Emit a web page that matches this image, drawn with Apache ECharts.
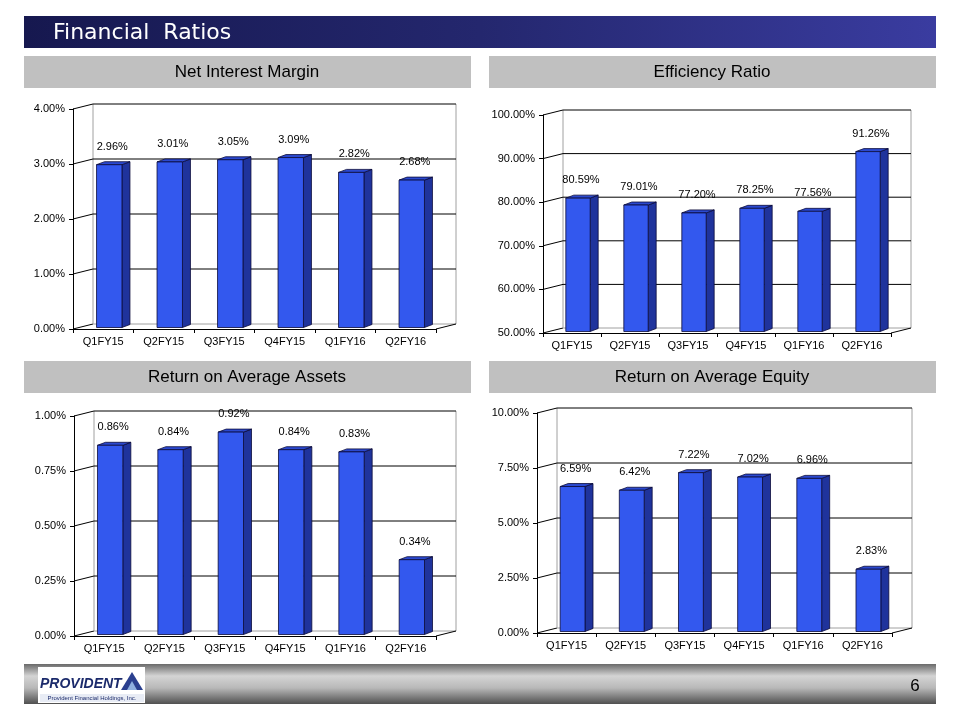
<!DOCTYPE html>
<html>
<head>
<meta charset="utf-8">
<title>Financial Ratios</title>
<script src="https://cdn.jsdelivr.net/npm/echarts@6/dist/echarts.min.js"></script>
<style>
  html, body { margin: 0; padding: 0; background: #fff; }
  #main { width: 960px; height: 720px; }
</style>
</head>
<body>
<div id="main"></div>
<script>
// data
var quarters = ['Q1FY15', 'Q2FY15', 'Q3FY15', 'Q4FY15', 'Q1FY16', 'Q2FY16'];

var nimValues = [2.96, 3.01, 3.05, 3.09, 2.82, 2.68];
var effValues = [80.59, 79.01, 77.20, 78.25, 77.56, 91.26];
var roaaValues = [0.86, 0.84, 0.92, 0.84, 0.83, 0.34];
var roaeValues = [6.59, 6.42, 7.22, 7.02, 6.96, 2.83];

var nimTicks = [0, 1, 2, 3, 4];
var effTicks = [50, 60, 70, 80, 90, 100];
var roaaTicks = [0, 0.25, 0.5, 0.75, 1];
var roaeTicks = [0, 2.5, 5, 7.5, 10];

var chartTitles = ['Net Interest Margin', 'Efficiency Ratio', 'Return on Average Assets', 'Return on Average Equity'];

var chart = echarts.init(document.getElementById('main'));

// depth of the back wall and of the bars
var WALL_DX = 20, WALL_DY = 5;
var BAR_DX = 8, BAR_DY = 3;

var panels = [
    { values: nimValues, ticks: nimTicks, grid: { left: 73, top: 109, width: 363, height: 220 } },
    { values: effValues, ticks: effTicks, grid: { left: 543, top: 115, width: 348, height: 218 } },
    { values: roaaValues, ticks: roaaTicks, grid: { left: 74, top: 416, width: 362, height: 220 } },
    { values: roaeValues, ticks: roaeTicks, grid: { left: 537, top: 413, width: 355, height: 220 } }
];

function wallRender(ticks) {
    return function(params, api) {
        var cs = params.coordSys;
        var v = api.value(1);
        var y = api.coord([0, v])[1];
        var left = cs.x, right = cs.x + cs.width, bottom = cs.y + cs.height, top = cs.y;
        var isFloor = v === ticks[0];
        var children = [
            { type: 'line', shape: { x1: left, y1: y, x2: left + WALL_DX, y2: y - WALL_DY },
              style: { stroke: '#000', lineWidth: 1 } },
            { type: 'line', shape: { x1: left + WALL_DX, y1: y - WALL_DY, x2: right + WALL_DX, y2: y - WALL_DY },
              style: { stroke: isFloor ? '#a0a0a0' : '#000', lineWidth: 1 } }
        ];
        if (isFloor) {
            children.push(
                { type: 'line', shape: { x1: left + WALL_DX, y1: top - WALL_DY, x2: left + WALL_DX, y2: bottom - WALL_DY },
                  style: { stroke: '#a0a0a0', lineWidth: 1 } },
                { type: 'line', shape: { x1: right + WALL_DX, y1: top - WALL_DY, x2: right + WALL_DX, y2: bottom - WALL_DY },
                  style: { stroke: '#a0a0a0', lineWidth: 1 } },
                { type: 'line', shape: { x1: right, y1: bottom, x2: right + WALL_DX, y2: bottom - WALL_DY },
                  style: { stroke: '#000', lineWidth: 1 } }
            );
        }
        return { type: 'group', children: children };
    };
}

function barRender(minVal) {
    return function(params, api) {
        var i = api.value(0), v = api.value(1);
        var base = api.coord([i, minVal]);
        var top = api.coord([i, v]);
        var bw = api.size([1, 0])[0] * 0.42;
        var cx = base[0] + 6;
        var x0 = cx - bw / 2, x1 = cx + bw / 2;
        var y0 = top[1] - 1.5, y1 = base[1] - 1.5;
        var edge = { stroke: '#0b0b3a', lineWidth: 0.8 };
        return {
            type: 'group',
            children: [
                { type: 'polygon', shape: { points: [[x1, y0], [x1 + BAR_DX, y0 - BAR_DY], [x1 + BAR_DX, y1 - BAR_DY], [x1, y1]] },
                  style: Object.assign({ fill: '#1f339c' }, edge) },
                { type: 'polygon', shape: { points: [[x0, y0], [x0 + BAR_DX, y0 - BAR_DY], [x1 + BAR_DX, y0 - BAR_DY], [x1, y0]] },
                  style: Object.assign({ fill: '#2b49cf' }, edge) },
                { type: 'rect', shape: { x: x0, y: y0, width: bw, height: y1 - y0 },
                  style: Object.assign({ fill: '#3358ee' }, edge) },
                { type: 'text', x: cx + 3, y: y0 - 18,
                  style: { text: v.toFixed(2) + '%', fill: '#000', font: '11px "Liberation Sans", Arial, sans-serif',
                           textAlign: 'center', textVerticalAlign: 'middle' } }
            ]
        };
    };
}

var grids = [], xAxes = [], yAxes = [], series = [];

panels.forEach(function(p, k) {
    grids.push(p.grid);
    xAxes.push({
        gridIndex: k,
        type: 'category',
        data: quarters,
        axisLine: { lineStyle: { color: '#000', width: 1 } },
        axisTick: { show: true, length: 4, lineStyle: { color: '#000' } },
        axisLabel: { color: '#000', fontSize: 11, margin: 7, fontFamily: 'Liberation Sans' },
        splitLine: { show: false }
    });
    yAxes.push({
        gridIndex: k,
        type: 'value',
        min: p.ticks[0],
        max: p.ticks[p.ticks.length - 1],
        interval: p.ticks[1] - p.ticks[0],
        axisLine: { show: true, lineStyle: { color: '#000', width: 1 } },
        axisTick: { show: true, length: 4, lineStyle: { color: '#000' } },
        axisLabel: { color: '#000', fontSize: 11, margin: 8, fontFamily: 'Liberation Sans',
                     formatter: function(v) { return v.toFixed(2) + '%'; } },
        splitLine: { show: false }
    });
    series.push({
        type: 'custom',
        xAxisIndex: k,
        yAxisIndex: k,
        z: 1,
        silent: true,
        renderItem: wallRender(p.ticks),
        data: p.ticks.map(function(t) { return [0, t]; })
    });
    series.push({
        type: 'custom',
        xAxisIndex: k,
        yAxisIndex: k,
        z: 5,
        renderItem: barRender(p.ticks[0]),
        data: p.values.map(function(v, i) { return [i, v]; })
    });
});

// slide furniture: title bar, section headers, footer
var headerBoxes = [[24, 56], [489, 56], [24, 361], [489, 361]];
var graphics = [
    { type: 'rect', shape: { x: 24, y: 16, width: 912, height: 32 },
      style: { fill: new echarts.graphic.LinearGradient(0, 0, 1, 0, [
          { offset: 0, color: '#16184f' }, { offset: 0.5, color: '#24276e' }, { offset: 1, color: '#3a3ca0' }]) } },
    { type: 'text', x: 53, y: 33,
      style: { text: 'Financial  Ratios', fill: '#fff', font: '22px "DejaVu Sans", Verdana, sans-serif', textVerticalAlign: 'middle' } }
];
headerBoxes.forEach(function(b, k) {
    graphics.push(
        { type: 'rect', shape: { x: b[0], y: b[1], width: 447, height: 32 }, style: { fill: '#c0c0c0' } },
        { type: 'text', x: b[0] + 223, y: b[1] + 16,
          style: { text: chartTitles[k], fill: '#000', font: '17px "Liberation Sans", Arial, sans-serif',
                   textAlign: 'center', textVerticalAlign: 'middle' } }
    );
});
graphics.push(
    { type: 'rect', shape: { x: 24, y: 664, width: 912, height: 40 },
      style: { fill: new echarts.graphic.LinearGradient(0, 0, 0, 1, [
          { offset: 0, color: '#6a6a6a' }, { offset: 0.3, color: '#d4d4d4' }, { offset: 0.6, color: '#b8b8b8' }, { offset: 1, color: '#505050' }]) } },
    { type: 'rect', shape: { x: 38, y: 667, width: 107, height: 36 }, style: { fill: '#fff' } },
    { type: 'text', x: 40, y: 684,
      style: { text: 'PROVIDENT', fill: '#1b2a6b', font: 'italic bold 14px "Liberation Sans", Arial, sans-serif', textVerticalAlign: 'middle' } },
    { type: 'polygon', shape: { points: [[121, 690], [132, 672], [143, 690]] }, style: { fill: '#2a3f8f' } },
    { type: 'polygon', shape: { points: [[127, 690], [132, 681], [137, 690]] }, style: { fill: '#8fb0e0' } },
    { type: 'rect', shape: { x: 40, y: 694, width: 104, height: 8 }, style: { fill: '#e8ecf5' } },
    { type: 'text', x: 92, y: 698,
      style: { text: 'Provident Financial Holdings, Inc.', fill: '#1b2a6b', font: '6px "Liberation Sans", Arial, sans-serif',
               textAlign: 'center', textVerticalAlign: 'middle' } },
    { type: 'text', x: 915, y: 686,
      style: { text: '6', fill: '#000', font: '17px "Liberation Sans Narrow", "Liberation Sans", Arial, sans-serif',
               textAlign: 'center', textVerticalAlign: 'middle' } }
);

var option = {
    backgroundColor: '#fff',
    animation: false,
    grid: grids,
    xAxis: xAxes,
    yAxis: yAxes,
    series: series,
    graphic: graphics
};

chart.setOption(option, true);
</script>
</body>
</html>
